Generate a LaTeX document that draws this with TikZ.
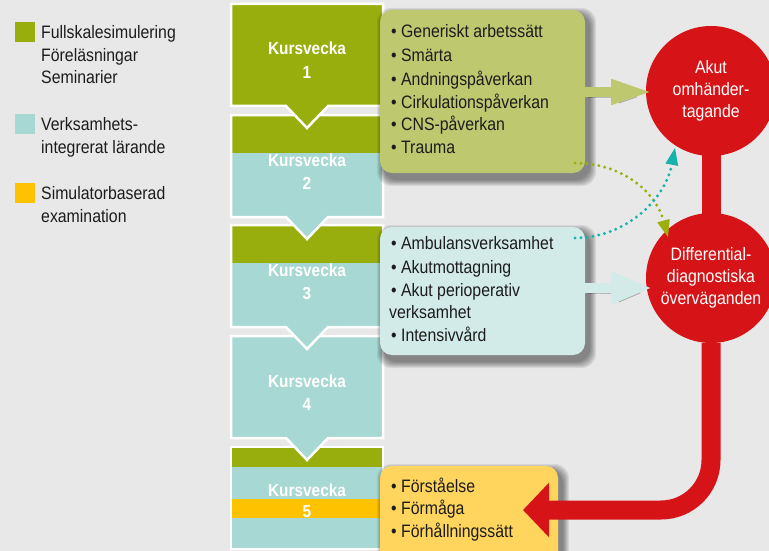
\documentclass[tikz,border=0pt]{standalone}
\usepackage{fontspec}
\setmainfont{Liberation Sans}[FakeStretch=0.88]
\usetikzlibrary{arrows.meta}
\definecolor{bgc}{HTML}{E8E8E8}
\definecolor{cgreen}{HTML}{98AE0C}
\definecolor{cteal}{HTML}{A8D8D3}
\definecolor{cyel}{HTML}{FEC200}
\definecolor{pgreen}{HTML}{BEC96F}
\definecolor{pteal}{HTML}{D3EBE8}
\definecolor{pyel}{HTML}{FFD55E}
\definecolor{cred}{HTML}{D61418}
\definecolor{dgreen}{HTML}{9BB00F}
\definecolor{dteal}{HTML}{16B2AC}
\definecolor{txtc}{HTML}{1C1C1C}
\newcommand\chevpath[1]{(231,#1) -- (383,#1) -- (383,#1+102) -- (328,#1+102) -- (307,#1+124) -- (286,#1+102) -- (231,#1+102) -- cycle}
\newcommand\pshadow[4]{\foreach \k in {0,...,6}{\fill[black,opacity=0.075,rounded corners=14pt] ({#1+3-\k},{#2+4-\k}) rectangle ({#3+5+\k},{#4+7+\k});}}
\begin{document}
\begin{tikzpicture}[x=1pt,y=-1pt,
  tx/.style={font=\fontsize{18}{23}\selectfont, text=txtc, inner sep=0pt, anchor=base west},
  kw/.style={font=\bfseries\fontsize{17.5}{20}\selectfont, text=white, inner sep=0pt, anchor=base},
  panel/.style={rounded corners=12pt, inner sep=0pt, draw=none},
  bubble/.style={circle, fill=cred, inner sep=0pt, minimum size=130pt, align=center, text=white, font=\fontsize{18}{22}\selectfont},
  boxline/.style={draw=white, line width=2.5pt, line join=miter},
  ashadow/.style={preaction={draw=black, opacity=0.2, transform canvas={shift={(3pt,-5pt)}}}},
  dots/.style={line width=3.3pt, line cap=round, dash pattern=on 0pt off 6pt}]
\fill[bgc] (0,0) rectangle (769,551);
\useasboundingbox (0,0) rectangle (769,551);

% legend
\fill[cgreen] (15,22) rectangle (35,42);
\node[tx] (lg1) at (41,39) {Fullskalesimulering};
\node[tx] (lg2) at (41,62) {Föreläsningar};
\node[tx] (lg3) at (41,84) {Seminarier};
\fill[cteal] (15,114) rectangle (35,134);
\node[tx] (lt1) at (41,131) {Verksamhets-};
\node[tx] (lt2) at (41,153) {integrerat lärande};
\fill[cyel] (15,183) rectangle (35,203);
\node[tx] (ly1) at (41,199) {Simulatorbaserad};
\node[tx] (ly2) at (41,222) {examination};

% week boxes (bottom to top so chevrons overlap)
\fill[cteal] (231,447) rectangle (383,549);
\fill[cgreen] (231,447) rectangle (383,467);
\fill[cyel] (231,499) rectangle (383,518);
\draw[boxline] (231,447) rectangle (383,549);

\fill[cteal] \chevpath{336};
\draw[boxline] \chevpath{336};

\fill[cteal] \chevpath{225};
\fill[cgreen] (231,225) rectangle (383,263);
\draw[boxline] \chevpath{225};

\fill[cteal] \chevpath{115};
\fill[cgreen] (231,115) rectangle (383,153);
\draw[boxline] \chevpath{115};

\fill[cgreen] \chevpath{4};
\draw[boxline] \chevpath{4};

\node[kw] (k1) at (307,55) {Kursvecka};
\node[kw] (n1) at (307,78) {1};
\node[kw] (k2) at (307,166) {Kursvecka};
\node[kw] (n2) at (307,189) {2};
\node[kw] (k3) at (307,276) {Kursvecka};
\node[kw] (n3) at (307,299) {3};
\node[kw] (k4) at (307,387) {Kursvecka};
\node[kw] (n4) at (307,410) {4};
\node[kw] (k5) at (307,496) {Kursvecka};
\node[kw] (n5) at (307,517) {5};

% panels
\pshadow{380}{10}{585}{173}
\node[panel, fill=pgreen, minimum width=205pt, minimum height=163pt] (gp) at (482.5,91.5) {};
\pshadow{380}{227}{585}{355}
\node[panel, fill=pteal, minimum width=205pt, minimum height=128pt] (tp) at (482.5,291) {};
\pshadow{380}{466}{558}{575}
\node[panel, fill=pyel, minimum width=178pt, minimum height=109pt] (yp) at (469,520.5) {};

\node[tx] (g1) at (391,38) {• Generiskt arbetssätt};
\node[tx] (g2) at (391,62) {• Smärta};
\node[tx] (g3) at (391,85) {• Andningspåverkan};
\node[tx] (g4) at (391,108) {• Cirkulationspåverkan};
\node[tx] (g5) at (391,131) {• CNS-påverkan};
\node[tx] (g6) at (391,153) {• Trauma};

\node[tx] (t1) at (391,249) {• Ambulansverksamhet};
\node[tx] (t2) at (391,273) {• Akutmottagning};
\node[tx] (t3) at (391,296) {• Akut perioperativ};
\node[tx] (t4) at (389,318) {verksamhet};
\node[tx] (t5) at (391,341) {• Intensivvård};

\node[tx] (y1) at (391,492) {• Förståelse};
\node[tx] (y2) at (391,514) {• Förmåga};
\node[tx] (y3) at (391,537) {• Förhållningssätt};

% circles
\draw[cred, line width=19pt] (711,150) -- (711,220);
\node[bubble] (ak) at (711,91) {Akut\\omhänder-\\tagande};
\node[bubble] (dd) at (711,278) {Differential-\\diagnostiska\\överväganden};

% red return arrow
\coordinate (rt) at (523,510);
\draw[cred, line width=19pt, rounded corners=50pt, -{Triangle[length=26pt,width=53pt]}]
  (dd.south) -- (dd.south |- rt) -- (rt);

% panel arrows
\coordinate (gt) at (653,92);
\draw[pgreen, line width=10pt, ashadow, -{Triangle[length=42pt,width=23pt]}] (gp.east |- gt) -- (gt);
\coordinate (tt) at (652,288);
\draw[pteal, line width=10pt, ashadow, -{Triangle[length=41pt,width=30pt]}] (tp.east |- tt) -- (tt);

% dotted connectors
\coordinate (gs) at (575,163);
\coordinate (ge) at (668,237);
\draw[dgreen, dots, -{Triangle[length=17pt,width=13pt,line width=0pt]}] (gs) .. controls (620,163) and (655,190) .. (ge);
\coordinate (ts) at (575,238);
\coordinate (te) at (675,148);
\draw[dteal, dots, -{Triangle[length=17pt,width=13pt,line width=0pt]}] (ts) .. controls (625,238) and (665,200) .. (te);
\end{tikzpicture}
\end{document}
